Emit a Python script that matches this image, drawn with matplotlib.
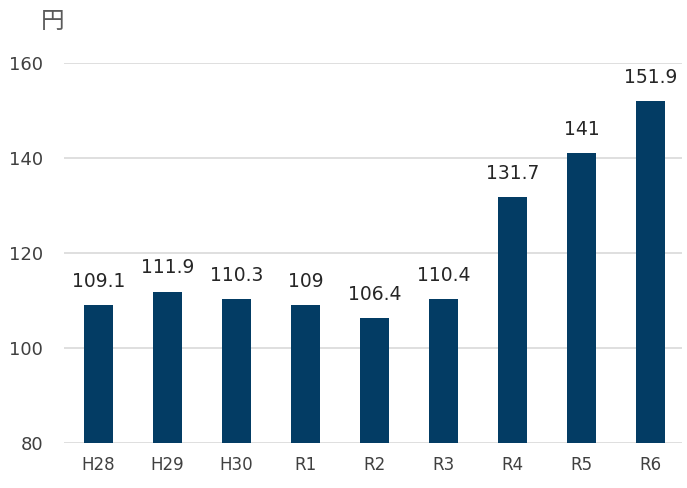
import matplotlib.pyplot as plt

plt.rcParams['font.family'] = ['DejaVu Sans', 'Noto Sans CJK JP']

# --- Data ---
years = ["H28", "H29", "H30", "R1", "R2", "R3", "R4", "R5", "R6"]
prices = [109.1, 111.9, 110.3, 109, 106.4, 110.4, 131.7, 141, 151.9]
price_labels = ["109.1", "111.9", "110.3", "109", "106.4", "110.4", "131.7", "141", "151.9"]
y_ticks = [80, 100, 120, 140, 160]

fig = plt.figure(figsize=(6.87, 4.88), dpi=100)
ax = fig.add_axes([0.093, 0.092, 0.899, 0.779])

x = range(len(years))
ax.bar(x, prices, width=0.42, color='#033c64', zorder=3)

# value labels above each bar
for xi, val, lab in zip(x, prices, price_labels):
    ax.annotate(lab, (xi, val), xytext=(0, 13), textcoords='offset points',
                ha='center', va='baseline', fontsize=13.5, color='#262626')

ax.set_ylim(80, 160)
ax.set_xlim(-0.5, 8.45)
ax.set_yticks(y_ticks)
ax.set_xticks(list(x))
ax.set_xticklabels(years)
ax.tick_params(axis='both', length=0, colors='#404040')
ax.tick_params(axis='x', pad=9, labelsize=12)
ax.tick_params(axis='y', pad=15, labelsize=13)
ax.grid(axis='y', color='#d9d9d9', linewidth=1.2, zorder=0)
for side in ['top', 'right', 'left', 'bottom']:
    ax.spines[side].set_visible(False)

fig.text(0.077, 0.955, '円', fontsize=17, color='#5a5a5a', ha='center', va='center',
         family=['Noto Sans CJK JP', 'DejaVu Sans'])

plt.savefig('out.png', dpi=100)
